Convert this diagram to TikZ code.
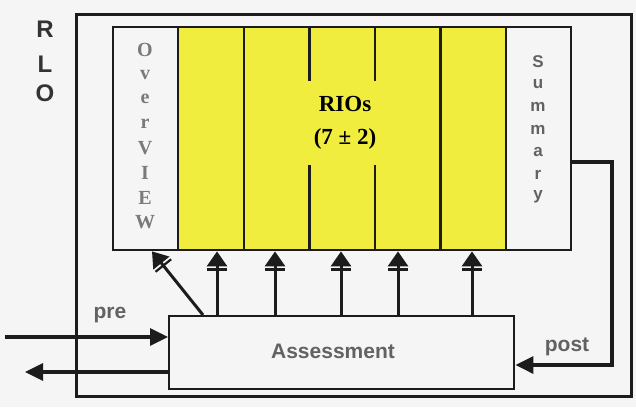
\documentclass[tikz,border=0pt]{standalone}
\usepackage{fontspec}
\setmainfont{Liberation Serif}
\newfontfamily\labelsf{Liberation Sans}
\usetikzlibrary{arrows.meta,calc}
\definecolor{ink}{HTML}{1C1C1C}
\definecolor{paper}{HTML}{F5F5F5}
\definecolor{rioyellow}{HTML}{F1ED3E}
\definecolor{greytext}{HTML}{626262}

\begin{document}
\begin{tikzpicture}[x=.5pt,y=-.5pt,
  panel/.style={draw=ink,line width=1.2pt,anchor=north west,minimum height=111.5pt,inner sep=0pt},
  uparrow/.style={ink,line width=1.5pt,-{Bar[width=10pt,line width=1.1pt,sep=1pt]Triangle[length=7.5pt,width=10pt]}},
  flow/.style={ink,line width=1.6pt,-{Triangle[length=9pt,width=8.5pt]}},
  greylbl/.style={text=greytext,font=\labelsf\bfseries\fontsize{10.5}{12}\selectfont}]
\fill[paper] (0,0) rectangle (636,407);
% RLO frame
\node[draw=ink,line width=1.3pt,anchor=north west,minimum width=277.5pt,minimum height=191pt,inner sep=0pt] (rlo) at (75,13) {};
\foreach \c/\y in {R/29,L/64,O/93}{\node[text=ink!90,font=\labelsf\bfseries\fontsize{12}{14}\selectfont] (rlo\c) at (45,\y) {\c};}
% panels
\node[panel,fill=paper,minimum width=32.5pt] (ov) at (112,26) {};
\foreach \i in {1,...,5}{\node[panel,fill=rioyellow,minimum width=32.8pt] (rio\i) at ({177+65.6*(\i-1)},26) {};}
\node[panel,fill=paper,minimum width=32.5pt] (summary) at (505,26) {};
\node[fill=rioyellow,inner sep=0pt,minimum width=44pt,minimum height=42pt,align=center,font=\bfseries\fontsize{11.5}{16.5}\selectfont] (rios) at (345,123) {RIOs\\(7 ± 2)};
\foreach \c [count=\k] in {O,v,e,r,V,I,E,W}{\node[text=greytext!85,font=\bfseries\fontsize{10}{12}\selectfont,inner sep=0pt] (ov\k) at (145,{50+24.6*(\k-1)}) {\c};}
\foreach \c [count=\k] in {S,u,m,m,a,r,y}{\node[text=greytext,font=\labelsf\bfseries\fontsize{8.5}{10}\selectfont,inner sep=0pt] (sum\k) at (538,{62+22.5*(\k-1)}) {\c};}
% assessment
\node[draw=ink,line width=1.2pt,fill=paper,anchor=north west,minimum width=172.5pt,minimum height=36.5pt,inner sep=0pt] (assess) at (168,315) {};
\node[greylbl] (assesstxt) at (333,351) {Assessment};
\draw[uparrow] (assess.north -| 203,0) -- (ov.south -| 152,0);
\foreach \x/\c in {217/1,275/2,341/3,398/4,472/5}{\draw[uparrow] (assess.north -| \x,0) -- (rio\c.south -| \x,0);}
% pre / post
\coordinate (prein) at (5,337);
\coordinate (outend) at (25,372);
\coordinate (postturn) at (612,365);
\draw[flow] (prein) -- (assess.west |- prein);
\draw[flow] (assess.west |- outend) -- (outend);
\draw[flow] (summary.east |- 0,162) -| (postturn) -- (assess.east |- postturn);
\node[greylbl] (prelbl) at (110,315) {pre};
\node[greylbl] (postlbl) at (567,347) {post};
\end{tikzpicture}
\end{document}
